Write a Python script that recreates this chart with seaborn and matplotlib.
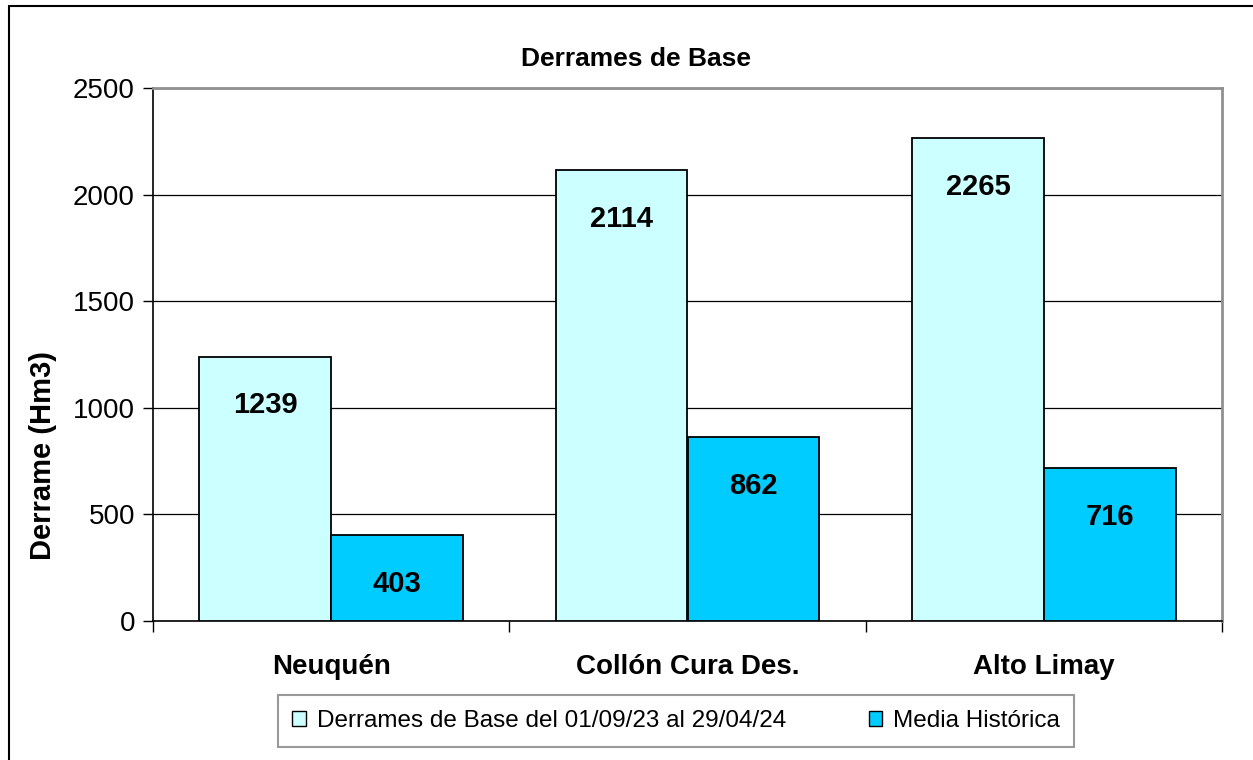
import matplotlib
matplotlib.use("Agg")
import matplotlib.pyplot as plt
import pandas as pd
import seaborn as sns
from matplotlib.lines import Line2D

# data
cuencas = ["Neuquén", "Collón Cura Des.", "Alto Limay"]
series = ["Derrames de Base del 01/09/23 al 29/04/24", "Media Histórica"]
derrames_base = [1239, 2114, 2265]
media_historica = [403, 862, 716]
colores = ["#CCFFFF", "#00CCFF"]

df = pd.DataFrame({
    "cuenca": cuencas * 2,
    "serie": [series[0]] * 3 + [series[1]] * 3,
    "valor": derrames_base + media_historica,
})

sns.set_style("white")
plt.rcParams['font.family'] = ['Liberation Sans', 'DejaVu Sans']
plt.rcParams['text.color'] = 'black'
plt.rcParams['axes.labelcolor'] = 'black'
plt.rcParams['xtick.color'] = 'black'
plt.rcParams['ytick.color'] = 'black'

fig = plt.figure(figsize=(12.53, 7.6), dpi=100)
ax = fig.add_axes([153/1253, 1-621/760, (1222-153)/1253, (621-88)/760])

sns.barplot(data=df, x="cuenca", y="valor", hue="serie", palette=colores, saturation=1,
            edgecolor="black", linewidth=1.3, width=0.74, gap=0, ax=ax, zorder=3)

# data labels just under the top of each bar
for cont in ax.containers:
    for bar in cont:
        h = bar.get_height()
        ax.annotate(f"{h:.0f}", (bar.get_x() + bar.get_width()/2, h),
                    xytext=(0, -35), textcoords="offset points",
                    ha="center", va="center", fontsize=21, fontweight="bold", zorder=4)

ax.set_ylim(0, 2500)
ax.set_xlim(-0.5, 2.5)
ax.set_yticks(range(0, 2501, 500))
ax.yaxis.grid(True, color="black", linewidth=0.9, zorder=0)
ax.set_axisbelow(True)

ax.set_xticks(range(3))
ax.set_xticklabels(cuencas, fontsize=20, fontweight="bold")
ax.set_xticks([-0.5, 0.5, 1.5, 2.5], minor=True)
ax.tick_params(axis="x", which="major", length=0, pad=24)
ax.tick_params(axis="x", which="minor", length=8, width=1, color="black", direction="out", bottom=True)
ax.tick_params(axis="y", length=7, width=1, color="black", direction="out", left=True,
               labelsize=20, pad=6)

ax.set_xlabel("")
ax.set_ylabel("Derrame (Hm3)", fontsize=21, fontweight="bold")
ax.yaxis.set_label_coords(-0.0895, 0.31)
fig.text(636/1253, 1-59/760, "Derrames de Base", fontsize=19, fontweight="bold",
         ha="center", va="center")

for s in ["left", "bottom"]:
    ax.spines[s].set_color("black")
    ax.spines[s].set_linewidth(1.2)
for s in ["top", "right"]:
    ax.spines[s].set_color("#909090")
    ax.spines[s].set_linewidth(2)

handles, labels = ax.get_legend_handles_labels()
ax.get_legend().remove()
leg = fig.legend(handles, labels, loc="center", bbox_to_anchor=(676/1253, 1-721/760),
                 ncol=2, fontsize=17.5, frameon=True, fancybox=False, edgecolor="#808080",
                 handlelength=0.55, handleheight=0.55, handletextpad=0.45, columnspacing=3.4,
                 borderpad=0.6, borderaxespad=0)
leg.get_frame().set_linewidth(1.5)
for h in leg.legend_handles:
    h.set_edgecolor("black")
    h.set_linewidth(1)

# outer chart border
fig.add_artist(Line2D([9/1253, 9/1253], [0, 1-6/760], color="black", linewidth=1.5))
fig.add_artist(Line2D([9/1253, 1], [1-6/760, 1-6/760], color="black", linewidth=1.5))

fig.savefig("out.png", dpi=100)
